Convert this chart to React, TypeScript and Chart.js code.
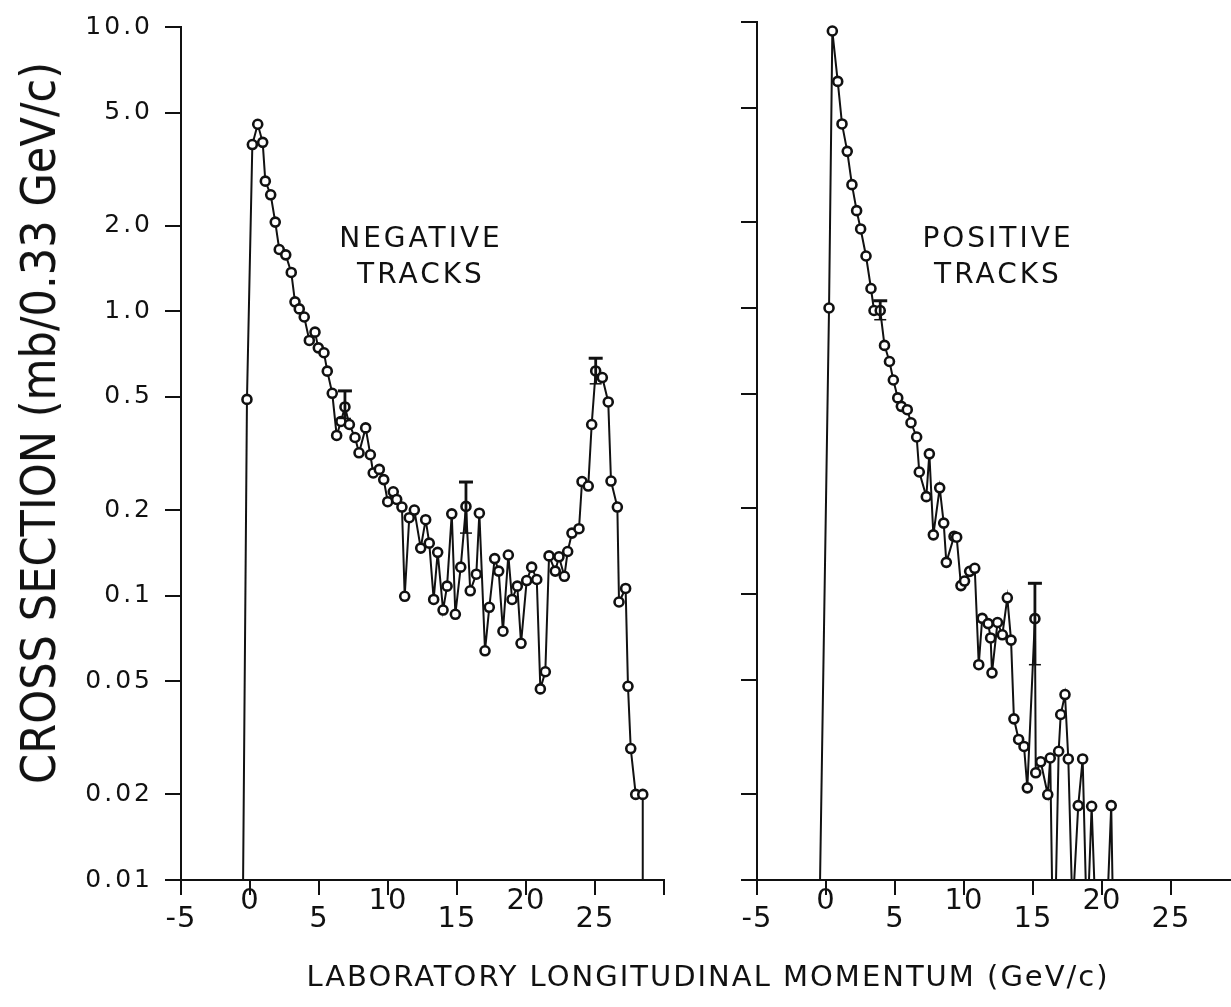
import React, { useEffect, useRef } from 'react';
import { Chart, registerables } from 'chart.js';

Chart.register(...registerables);

// ---------------- data ----------------
const NEG_X = [
  -0.5, -0.22, 0.17, 0.56, 0.92, 1.11, 1.5, 1.83, 2.12, 2.59,
  2.99, 3.26, 3.57, 3.93, 4.3, 4.71, 4.95, 5.36, 5.6, 5.96,
  6.28, 6.59, 6.88, 7.2, 7.61, 7.9, 8.38, 8.72, 8.93, 9.37,
  9.69, 9.98, 10.38, 10.63, 11.01, 11.21, 11.54, 11.91, 12.37, 12.73,
  12.99, 13.31, 13.6, 13.99, 14.28, 14.62, 14.88, 15.27, 15.65, 15.96,
  16.4, 16.62, 17.03, 17.34, 17.73, 18.02, 18.33, 18.72, 18.99, 19.37,
  19.64, 20.05, 20.41, 20.78, 21.04, 21.4, 21.67, 22.12, 22.39, 22.78,
  23.02, 23.33, 23.84, 24.06, 24.51, 24.76, 25.05, 25.53, 25.96, 26.16,
  26.62, 26.74, 27.22, 27.39, 27.59, 27.95, 28.46, 28.46,
];
const NEG_Y = [
  0.01, 0.49, 3.86, 4.55, 3.93, 2.87, 2.57, 2.06, 1.65, 1.58,
  1.37, 1.08, 1.02, 0.955, 0.79, 0.845, 0.744, 0.715, 0.616, 0.515,
  0.366, 0.41, 0.461, 0.4, 0.36, 0.318, 0.389, 0.313, 0.27, 0.278,
  0.256, 0.214, 0.232, 0.218, 0.205, 0.0995, 0.188, 0.2, 0.147, 0.185,
  0.153, 0.097, 0.142, 0.089, 0.108, 0.194, 0.086, 0.126, 0.206, 0.104,
  0.119, 0.195, 0.064, 0.091, 0.135, 0.122, 0.075, 0.139, 0.097, 0.108,
  0.068, 0.113, 0.126, 0.114, 0.047, 0.054, 0.138, 0.122, 0.137, 0.117,
  0.143, 0.166, 0.172, 0.252, 0.243, 0.4, 0.617, 0.585, 0.48, 0.253,
  0.205, 0.095, 0.106, 0.048, 0.029, 0.02, 0.02, 0.01,
];

const POS_X = [
  -0.43, 0.22, 0.46, 0.85, 1.16, 1.54, 1.88, 2.22, 2.51, 2.9,
  3.26, 3.48, 3.93, 4.24, 4.6, 4.88, 5.2, 5.46, 5.89, 6.16,
  6.57, 6.76, 7.27, 7.49, 7.78, 8.24, 8.53, 8.72, 9.28, 9.47,
  9.78, 10.04, 10.41, 10.78, 11.07, 11.32, 11.75, 11.93, 12.03, 12.43,
  12.78, 13.14, 13.41, 13.62, 13.96, 14.35, 14.59, 15.14, 15.2, 15.56,
  16.07, 16.25, 16.38, 16.67, 16.86, 17.01, 17.32, 17.56, 17.8, 17.99,
  18.28, 18.6, 18.82, 19.06, 19.25, 19.44, 20.46, 20.67, 20.76,
];
const POS_Y = [
  0.01, 1.0, 9.3, 6.2, 4.4, 3.53, 2.7, 2.19, 1.89, 1.52,
  1.17, 0.98, 0.98, 0.74, 0.65, 0.56, 0.485, 0.453, 0.441, 0.397,
  0.354, 0.267, 0.219, 0.309, 0.161, 0.235, 0.177, 0.129, 0.159, 0.158,
  0.107, 0.111, 0.12, 0.123, 0.0566, 0.0822, 0.0788, 0.0702, 0.053, 0.0795,
  0.072, 0.097, 0.069, 0.0366, 0.031, 0.0293, 0.021, 0.082, 0.0237, 0.0259,
  0.0199, 0.0267, 0.01, 0.01, 0.0282, 0.0379, 0.0445, 0.0265, 0.01, 0.01,
  0.0182, 0.0265, 0.01, 0.01, 0.0181, 0.01, 0.01, 0.0182, 0.01,
];

const NEG_ERR_X = [6.88, 15.65, 25.05];
const NEG_ERR_LO = [0.42, 0.166, 0.556];
const NEG_ERR_HI = [0.525, 0.251, 0.684];
const POS_ERR_X = [3.93, 15.14];
const POS_ERR_LO = [0.91, 0.0566];
const POS_ERR_HI = [1.06, 0.109];

const Y_MIN = 0.01;
const Y_MAX = 10;
const Y_TICKS = [10, 5, 2, 1, 0.5, 0.2, 0.1, 0.05, 0.02, 0.01];
const Y_LABELS = ['10.0', '5.0', '2.0', '1.0', '0.5', '0.2', '0.1', '0.05', '0.02', '0.01'];
const X_TICKS_NEG = [-5, 0, 5, 10, 15, 20, 25, 30];
const X_TICKS_POS = [-5, 0, 5, 10, 15, 20, 25];
const X_LABEL_VALUES = [-5, 0, 5, 10, 15, 20, 25];
const X_LABELS = ['-5', '0', '5', '10', '15', '20', '25'];

const Y_TITLE = 'CROSS SECTION (mb/0.33 GeV/c)';
const X_TITLE = 'LABORATORY LONGITUDINAL MOMENTUM (GeV/c)';
const NEG_LABEL = ['NEGATIVE', 'TRACKS'];
const POS_LABEL = ['POSITIVE', 'TRACKS'];

// ---------------- layout / style ----------------
const W = 1231;
const H = 1007;
const INK = '#111';
const LEFT_AREA = { left: 181, right: 664, top: 22, bottom: 880, xMin: -5, xMax: 30 };
const RIGHT_AREA = { left: 757, right: 1231, top: 22, bottom: 880, xMin: -5, xMax: 29.35 };
const LABEL_FONT = '"DejaVu Sans", sans-serif';

const errorBarPlugin = {
  id: 'errorBars',
  afterDatasetsDraw(chart: any, _args: any, opts: any) {
    const { ctx } = chart;
    const sx = chart.scales.x;
    const sy = chart.scales.y;
    const xs: number[] = opts.xs || [];
    ctx.save();
    ctx.strokeStyle = INK;
    xs.forEach((xv, i) => {
      const px = sx.getPixelForValue(xv);
      const top = sy.getPixelForValue(opts.hi[i]);
      const bot = sy.getPixelForValue(opts.lo[i]);
      ctx.lineWidth = 2.8;
      ctx.beginPath();
      ctx.moveTo(px, top);
      ctx.lineTo(px, bot);
      ctx.stroke();
      ctx.lineWidth = 3;
      ctx.beginPath();
      ctx.moveTo(px - 7, top);
      ctx.lineTo(px + 7, top);
      ctx.stroke();
      ctx.lineWidth = 1.5;
      ctx.beginPath();
      ctx.moveTo(px - 6, bot);
      ctx.lineTo(px + 6, bot);
      ctx.stroke();
    });
    ctx.restore();
  },
};

const spacingPlugin = {
  id: 'spacing',
  beforeDraw(chart: any) {
    (chart.ctx as any).letterSpacing = '3px';
  },
};

const xLabelPlugin = {
  id: 'xLabels',
  afterDraw(chart: any) {
    const { ctx } = chart;
    const sx = chart.scales.x;
    const bottom = chart.chartArea.bottom;
    ctx.save();
    (ctx as any).letterSpacing = '1px';
    ctx.fillStyle = INK;
    ctx.font = `29px ${LABEL_FONT}`;
    ctx.textAlign = 'center';
    ctx.textBaseline = 'middle';
    X_LABEL_VALUES.forEach((v, i) => {
      const px = sx.getPixelForValue(v);
      const raised = i % 2 === 1;
      ctx.fillText(X_LABELS[i], px, bottom + (raised ? 21 : 39));
    });
    ctx.restore();
  },
};

function buildConfig(
  xs: number[], ys: number[],
  errX: number[], errLo: number[], errHi: number[],
  xTicks: number[], area: any, showYLabels: boolean,
): any {
  const data = xs.map((x, i) => ({ x, y: ys[i] }));
  return {
    type: 'line',
    data: {
      datasets: [{
        data,
        borderColor: INK,
        borderWidth: 2,
        tension: 0,
        pointRadius: (c: any) => (c.raw && c.raw.y > Y_MIN ? 4.5 : 0),
        pointBorderWidth: 2.6,
        pointBackgroundColor: '#fff',
        pointBorderColor: INK,
        clip: false,
      }],
    },
    options: {
      animation: false,
      responsive: false,
      maintainAspectRatio: false,
      events: [],
      layout: { padding: { left: 0, top: area.top, right: W - area.right, bottom: 0 } },
      plugins: {
        legend: { display: false },
        tooltip: { enabled: false },
        errorBars: { xs: errX, lo: errLo, hi: errHi },
      },
      scales: {
        x: {
          type: 'linear',
          min: area.xMin,
          max: area.xMax,
          afterBuildTicks: (s: any) => { s.ticks = xTicks.map((value) => ({ value })); },
          afterFit: (s: any) => { s.height = H - area.bottom; },
          ticks: { display: false },
          grid: { drawOnChartArea: false, drawTicks: true, tickLength: 15, color: INK, lineWidth: 2 },
          border: { display: true, color: INK, width: 2 },
        },
        y: {
          type: 'logarithmic',
          min: Y_MIN,
          max: Y_MAX,
          afterBuildTicks: (s: any) => { s.ticks = Y_TICKS.map((value) => ({ value })); },
          afterFit: (s: any) => { s.width = area.left; },
          ticks: {
            display: showYLabels,
            autoSkip: false,
            padding: 12,
            color: INK,
            font: { family: LABEL_FONT, size: 25 },
            callback: (v: any) => {
              const i = Y_TICKS.findIndex((t) => Math.abs(t - Number(v)) < 1e-9);
              return i >= 0 ? Y_LABELS[i] : '';
            },
          },
          grid: { drawOnChartArea: false, drawTicks: true, tickLength: 16, color: INK, lineWidth: 2 },
          border: { display: true, color: INK, width: 2 },
        },
      },
    },
    plugins: [spacingPlugin, errorBarPlugin, xLabelPlugin],
  };
}

const textBase: React.CSSProperties = {
  position: 'absolute',
  whiteSpace: 'nowrap',
  color: INK,
  lineHeight: 1,
};

export default function App() {
  const leftRef = useRef<HTMLCanvasElement>(null);
  const rightRef = useRef<HTMLCanvasElement>(null);

  useEffect(() => {
    const c1 = new Chart(leftRef.current as HTMLCanvasElement,
      buildConfig(NEG_X, NEG_Y, NEG_ERR_X, NEG_ERR_LO, NEG_ERR_HI, X_TICKS_NEG, LEFT_AREA, true));
    const c2 = new Chart(rightRef.current as HTMLCanvasElement,
      buildConfig(POS_X, POS_Y, POS_ERR_X, POS_ERR_LO, POS_ERR_HI, X_TICKS_POS, RIGHT_AREA, false));
    return () => { c1.destroy(); c2.destroy(); };
  }, []);

  const canvasStyle: React.CSSProperties = { position: 'absolute', left: 0, top: 0, width: W, height: H };
  const panelLabel: React.CSSProperties = {
    ...textBase,
    fontFamily: LABEL_FONT,
    fontSize: 28,
    letterSpacing: 3,
    transform: 'translate(-50%, -50%)',
  };

  return (
    <div style={{ position: 'fixed', left: 0, top: 0, width: W, height: H, background: '#fff', overflow: 'hidden' }}>
      <canvas ref={leftRef} width={W} height={H} style={canvasStyle} />
      <canvas ref={rightRef} width={W} height={H} style={canvasStyle} />
      <div style={{ ...panelLabel, left: 421, top: 238 }}>{NEG_LABEL[0]}</div>
      <div style={{ ...panelLabel, left: 421, top: 274 }}>{NEG_LABEL[1]}</div>
      <div style={{ ...panelLabel, left: 998, top: 238 }}>{POS_LABEL[0]}</div>
      <div style={{ ...panelLabel, left: 998, top: 274 }}>{POS_LABEL[1]}</div>
      <div
        style={{
          ...textBase,
          left: 38,
          top: 423,
          fontFamily: '"Liberation Sans Narrow", "DejaVu Sans Condensed", "DejaVu Sans", sans-serif',
          fontSize: 48,
          transform: 'translate(-50%, -50%) rotate(-90deg)',
        }}
      >
        {Y_TITLE}
      </div>
      <div
        style={{
          ...textBase,
          left: 708,
          top: 976,
          fontFamily: LABEL_FONT,
          fontSize: 29,
          letterSpacing: 2,
          transform: 'translate(-50%, -50%)',
        }}
      >
        {X_TITLE}
      </div>
    </div>
  );
}
